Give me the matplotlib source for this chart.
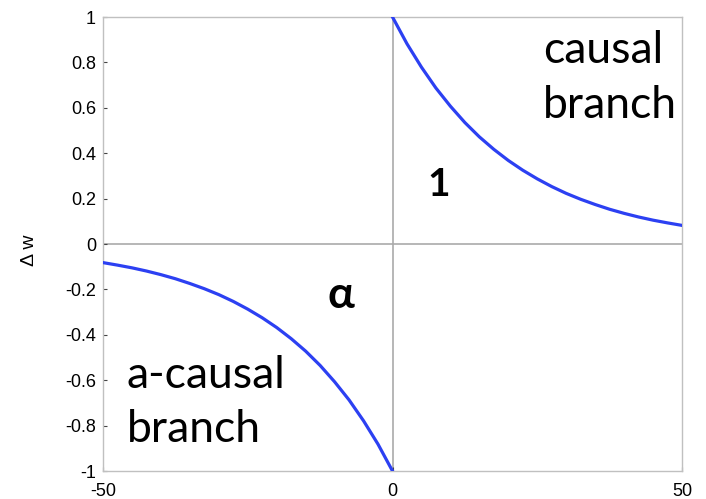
import matplotlib.pyplot as plt

# STDP window: weight change vs. spike timing difference
t_causal = [0, 2.5, 5, 7.5, 10, 12.5, 15, 17.5, 20, 22.5, 25, 27.5, 30, 32.5, 35, 37.5, 40, 42.5, 45, 47.5, 50]
dw_causal = [1.0, 0.882, 0.779, 0.687, 0.607, 0.535, 0.472, 0.417, 0.368, 0.325, 0.287,
             0.253, 0.223, 0.197, 0.174, 0.153, 0.135, 0.119, 0.105, 0.093, 0.082]
t_acausal = [-50, -47.5, -45, -42.5, -40, -37.5, -35, -32.5, -30, -27.5, -25, -22.5, -20, -17.5, -15, -12.5, -10, -7.5, -5, -2.5, 0]
dw_acausal = [-0.082, -0.093, -0.105, -0.119, -0.135, -0.153, -0.174, -0.197, -0.223, -0.253, -0.287,
              -0.325, -0.368, -0.417, -0.472, -0.535, -0.607, -0.687, -0.779, -0.882, -1.0]

xticks = [-50, 0, 50]
yticks = [-1, -0.8, -0.6, -0.4, -0.2, 0, 0.2, 0.4, 0.6, 0.8, 1]
yticklabels = ["-1", "-0.8", "-0.6", "-0.4", "-0.2", "0", "0.2", "0.4", "0.6", "0.8", "1"]

plt.rcParams["font.family"] = ["Liberation Sans", "DejaVu Sans"]

fig = plt.figure(figsize=(7.06, 4.99), dpi=100)
ax = fig.add_axes([103 / 706, 1 - 471 / 499, 579 / 706, 454 / 499])

ax.axhline(0, color="#aaaaaa", linewidth=1.2, zorder=1)
ax.axvline(0, color="#aaaaaa", linewidth=1.2, zorder=1)

ax.plot(t_causal, dw_causal, color="#2c40f2", linewidth=2.3, zorder=3)
ax.plot(t_acausal, dw_acausal, color="#2c40f2", linewidth=2.3, zorder=3)

ax.set_xlim(-50, 50)
ax.set_ylim(-1, 1)
ax.set_xticks(xticks)
ax.set_xticklabels([str(v) for v in xticks])
ax.set_yticks(yticks)
ax.set_yticklabels(yticklabels)
ax.tick_params(direction="in", length=3, width=0.8, color="#444444", labelsize=13)
ax.tick_params(axis="x", pad=9)
ax.tick_params(axis="y", pad=5)
for s in ax.spines.values():
    s.set_color("#c0c0c0")
    s.set_linewidth(1.0)

ax.set_ylabel("\u0394 w", fontsize=14)
ax.yaxis.set_label_coords(-0.112, 0.487)

note = ["Lato", "DejaVu Sans"]
ax.text(26.0, 0.797, "causal", fontsize=32, family=note, ha="left", va="baseline")
ax.text(26.0, 0.555, "branch", fontsize=32, family=note, ha="left", va="baseline")
ax.text(-45.9, -0.634, "a-causal", fontsize=32, family=note, ha="left", va="baseline")
ax.text(-45.9, -0.872, "branch", fontsize=32, family=note, ha="left", va="baseline")
ax.text(8.0, 0.211, "1", fontsize=28, family=note, fontweight="bold", ha="center", va="baseline")
ax.text(-8.9, -0.282, "\u03b1", fontsize=32, family=note, fontweight="bold", ha="center", va="baseline")

plt.savefig("out.png", dpi=100)
